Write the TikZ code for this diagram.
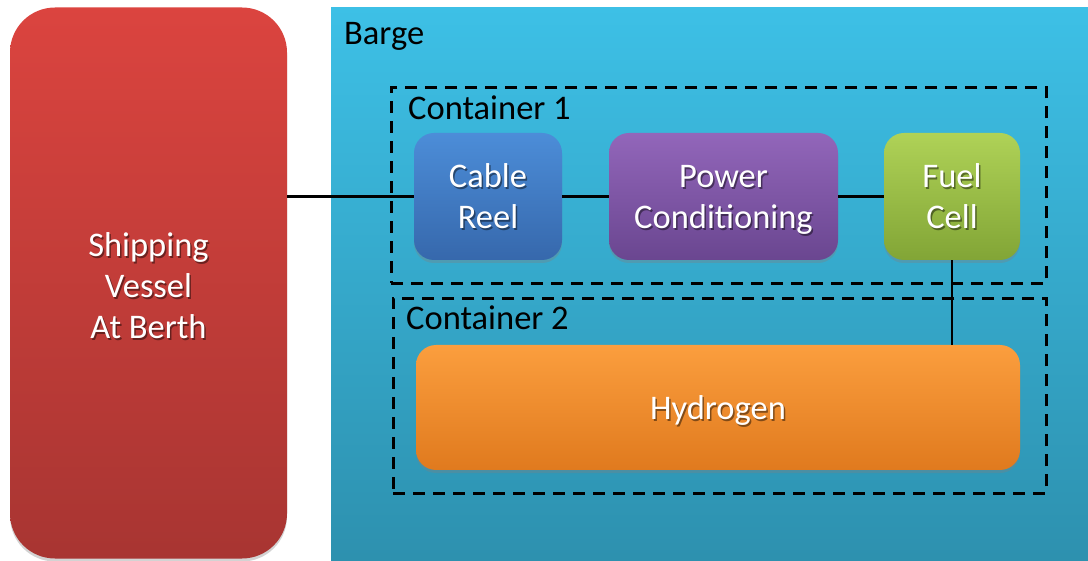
\documentclass[tikz,border=0pt]{standalone}
\usepackage{fontspec}
\setmainfont{Carlito}
\usetikzlibrary{shadows}
\definecolor{redtop}{HTML}{DB443F}
\definecolor{redbot}{HTML}{A83532}
\definecolor{cyantop}{HTML}{3DC0E6}
\definecolor{cyanbot}{HTML}{2D90AE}
\definecolor{bluetop}{HTML}{4C8DD8}
\definecolor{bluebot}{HTML}{3668AC}
\definecolor{purtop}{HTML}{9266BA}
\definecolor{purbot}{HTML}{6A4690}
\definecolor{grntop}{HTML}{AFD257}
\definecolor{grnbot}{HTML}{82A536}
\definecolor{orgtop}{HTML}{FB9E3E}
\definecolor{orgbot}{HTML}{E07A1E}
\newcommand{\bigfont}{\fontsize{34.5}{41}\selectfont}
\tikzset{
  x=1pt, y=-1pt,
  lbl/.style={font=\bigfont, text=black, anchor=west, inner sep=0pt},
  wtxt/.style={font=\bigfont, text=white, align=center},
  stxt/.style={font=\bigfont, text=black, text opacity=0.45, align=center},
  block/.style={rounded corners=20pt, draw=none, minimum width=#1, inner sep=0pt,
     drop shadow={shadow xshift=0pt, shadow yshift=-3pt, opacity=0.35}},
  cont/.style={draw=black, line width=2.6pt, dash pattern=on 12pt off 8pt, fill=none},
  wire/.style={draw=black, line width=2.2pt},
}
\begin{document}
\begin{tikzpicture}
\useasboundingbox (0,0) rectangle (1088,561);
% barge
\node[draw=none, top color=cyantop, bottom color=cyanbot, minimum width=762pt, minimum height=560pt, inner sep=0pt, anchor=north west] (barge) at (331,7) {};
\node[lbl] (bargelbl) at (344,36) {Barge};
% ship
\node[rounded corners=45pt, top color=redtop, bottom color=redbot, minimum width=277pt, minimum height=551pt, inner sep=0pt,
   drop shadow={shadow xshift=0pt, shadow yshift=-3pt, opacity=0.35}] (ship) at (148.5,283) {};
\node[stxt] at (150,288) {Shipping\\Vessel\\At Berth};
\node[wtxt] (shiptxt) at (148.5,286) {Shipping\\Vessel\\At Berth};
% containers
\node[cont, minimum width=655pt, minimum height=196pt, inner sep=0pt, anchor=north west] (c1) at (390,86) {};
\node[lbl] (c1lbl) at (408,108) {Container 1};
\node[cont, minimum width=653pt, minimum height=195pt, inner sep=0pt, anchor=north west] (c2) at (392,297) {};
\node[lbl] (c2lbl) at (406,318) {Container 2};
% blocks
\node[block=148pt, minimum height=127pt, top color=bluetop, bottom color=bluebot] (reel) at (488,196.5) {};
\node[stxt] at ([shift={(1.5,2)}]reel) {Cable\\Reel};
\node[wtxt] at (reel) {Cable\\Reel};
\node[block=229pt, minimum height=127pt, top color=purtop, bottom color=purbot] (power) at (723.5,196.5) {};
\node[stxt] at ([shift={(1.5,5)}]power) {Power\\Conditioning};
\node[wtxt] at ([shift={(0,3)}]power) {Power\\Conditioning};
\node[block=136pt, minimum height=127pt, top color=grntop, bottom color=grnbot] (fuel) at (952,196.5) {};
\node[stxt] at ([shift={(1.5,2)}]fuel) {Fuel\\Cell};
\node[wtxt] at (fuel) {Fuel\\Cell};
\node[block=604pt, minimum height=125pt, top color=orgtop, bottom color=orgbot] (h2) at (718,407.5) {};
\node[stxt] at ([shift={(1.5,5)}]h2) {Hydrogen};
\node[wtxt] at ([shift={(0,3)}]h2) {Hydrogen};
% wires
\draw[wire] (ship.east |- reel.west) -- (reel.west);
\draw[wire] (reel.east) -- (power.west);
\draw[wire] (power.east) -- (fuel.west);
\draw[wire] (fuel.south) -- (fuel.south |- h2.north);
\end{tikzpicture}
\end{document}
